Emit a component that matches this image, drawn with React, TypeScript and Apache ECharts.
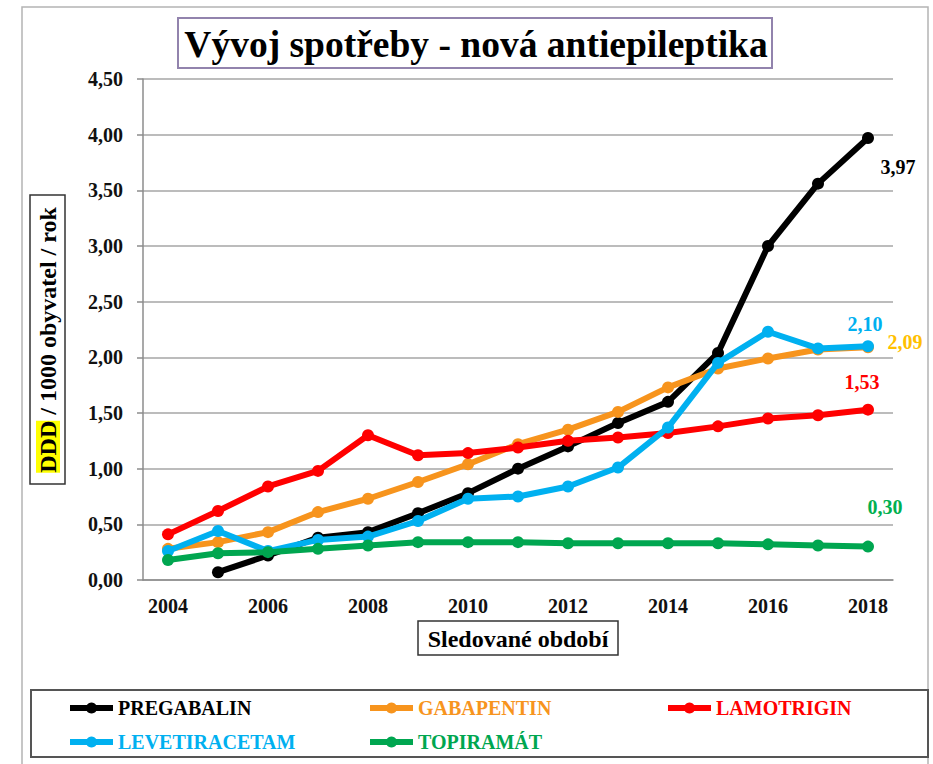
import React, { useEffect, useRef } from "react";
import * as echarts from "echarts";

const years = ["2004", "2005", "2006", "2007", "2008", "2009", "2010", "2011", "2012", "2013", "2014", "2015", "2016", "2017", "2018"];
const pregabalin = [null, 0.07, 0.22, 0.38, 0.43, 0.6, 0.78, 1.0, 1.2, 1.41, 1.6, 2.04, 3.0, 3.56, 3.97];
const gabapentin = [0.28, 0.34, 0.43, 0.61, 0.73, 0.88, 1.04, 1.22, 1.35, 1.51, 1.73, 1.9, 1.99, 2.07, 2.09];
const lamotrigin = [0.41, 0.62, 0.84, 0.98, 1.3, 1.12, 1.14, 1.19, 1.25, 1.28, 1.32, 1.38, 1.45, 1.48, 1.53];
const levetiracetam = [0.26, 0.44, 0.26, 0.36, 0.39, 0.53, 0.73, 0.75, 0.84, 1.01, 1.37, 1.95, 2.23, 2.08, 2.1];
const topiramat = [0.18, 0.24, 0.25, 0.28, 0.31, 0.34, 0.34, 0.34, 0.33, 0.33, 0.33, 0.33, 0.32, 0.31, 0.3];

const seriesNames = ["PREGABALIN", "GABAPENTIN", "LAMOTRIGIN", "LEVETIRACETAM", "TOPIRAMÁT"];
const seriesData = [pregabalin, gabapentin, lamotrigin, levetiracetam, topiramat];
const lineColors = ["#000000", "#f7941d", "#ff0000", "#00b0f0", "#00a650"];
const labelColors = ["#000000", "#ffc000", "#ff0000", "#00b0f0", "#00b050"];
const labelOffsets = [[30, 29], [37, -5], [-6, -28], [-3, -22], [17, -40]];
const legendPos = [[67, 698], [367, 698], [665, 698], [67, 732], [367, 732]];

const FONT = '"Liberation Serif", "Times New Roman", serif';
const fmt = (v: number) => v.toFixed(2).replace(".", ",");

export default function App() {
  const ref = useRef<HTMLDivElement>(null);
  useEffect(() => {
    if (!ref.current) return;
    const chart = echarts.init(ref.current, undefined, { renderer: "svg" });
    const series = seriesNames.map((name, i) => {
      const arr = seriesData[i];
      const last = arr.length - 1;
      return {
        name,
        type: "line",
        data: arr.map((v, j) =>
          j === last
            ? {
                value: v,
                label: {
                  show: true,
                  position: "inside",
                  offset: labelOffsets[i],
                  formatter: (p: any) => fmt(p.value),
                  color: labelColors[i],
                  fontFamily: FONT,
                  fontWeight: "bold",
                  fontSize: 20,
                },
              }
            : v
        ),
        symbol: "circle",
        symbolSize: 12,
        lineStyle: { width: 6, color: lineColors[i] },
        itemStyle: { color: lineColors[i] },
        z: 2 + i,
      };
    });
    const legends = seriesNames.map((name, i) => ({
      data: [name],
      left: legendPos[i][0],
      top: legendPos[i][1],
      padding: 0,
      itemWidth: 43,
      itemHeight: 14,
      itemGap: 3,
      lineStyle: { width: 6 },
      textStyle: { color: lineColors[i], fontFamily: FONT, fontWeight: "bold", fontSize: 20 },
    }));
    chart.setOption({
      animation: false,
      backgroundColor: "#ffffff",
      grid: { left: 143, right: 40, top: 79, bottom: 184, containLabel: false },
      legend: legends,
      xAxis: {
        type: "category",
        data: years,
        boundaryGap: true,
        axisLine: { lineStyle: { color: "#8c8c8c", width: 1.5 } },
        axisTick: { interval: 1, length: 7, lineStyle: { color: "#8c8c8c", width: 1.5 } },
        axisLabel: { interval: 1, margin: 16, color: "#111", fontFamily: FONT, fontWeight: "bold", fontSize: 20 },
        splitLine: { show: false },
      },
      yAxis: {
        type: "value",
        min: 0,
        max: 4.5,
        interval: 0.5,
        axisLine: { show: true, lineStyle: { color: "#8c8c8c", width: 1.5 } },
        axisTick: { show: true, length: 6, lineStyle: { color: "#8c8c8c", width: 1.5 } },
        axisLabel: { margin: 20, color: "#111", fontFamily: FONT, fontWeight: "bold", fontSize: 20, formatter: (v: number) => fmt(v) },
        splitLine: { lineStyle: { color: "#a6a6a6", width: 1.5 } },
      },
      series,
      graphic: [
        { type: "rect", shape: { x: 22, y: 7, width: 906, height: 780 }, style: { fill: "none", stroke: "#b4b4b4", lineWidth: 1.5 }, z: 0 },
        { type: "rect", shape: { x: 178, y: 18, width: 594, height: 50 }, style: { fill: "#fff", stroke: "#9283ad", lineWidth: 2 }, z: 10 },
        {
          type: "text", x: 476, y: 44, z: 11,
          style: { text: "Vývoj spotřeby - nová antiepileptika", fontFamily: FONT, fontWeight: "bold", fontSize: 37.5, fill: "#000", align: "center", verticalAlign: "middle" },
        },
        { type: "rect", shape: { x: 30, y: 195, width: 35, height: 289 }, style: { fill: "#fff", stroke: "#333", lineWidth: 1.5 }, z: 10 },
        {
          type: "text", x: 48, y: 340, rotation: Math.PI / 2, z: 11,
          style: {
            text: "{h|DDD} / 1000 obyvatel / rok",
            fontFamily: FONT, fontWeight: "bold", fontSize: 24, fill: "#000", align: "center", verticalAlign: "middle",
            rich: { h: { backgroundColor: "#ffff00", fontFamily: FONT, fontWeight: "bold", fontSize: 24, fill: "#000" } },
          },
        },
        { type: "rect", shape: { x: 418, y: 621, width: 200, height: 34 }, style: { fill: "#fff", stroke: "#333", lineWidth: 1.5 }, z: 10 },
        {
          type: "text", x: 518, y: 639, z: 11,
          style: { text: "Sledované období", fontFamily: FONT, fontWeight: "bold", fontSize: 24, fill: "#000", align: "center", verticalAlign: "middle" },
        },
        { type: "rect", shape: { x: 31, y: 690, width: 897, height: 67 }, style: { fill: "none", stroke: "#555", lineWidth: 2 }, z: 10 },
      ],
    });
    return () => chart.dispose();
  }, []);
  return <div ref={ref} style={{ position: "absolute", left: 0, top: 0, width: 933, height: 764, background: "#fff" }} />;
}
